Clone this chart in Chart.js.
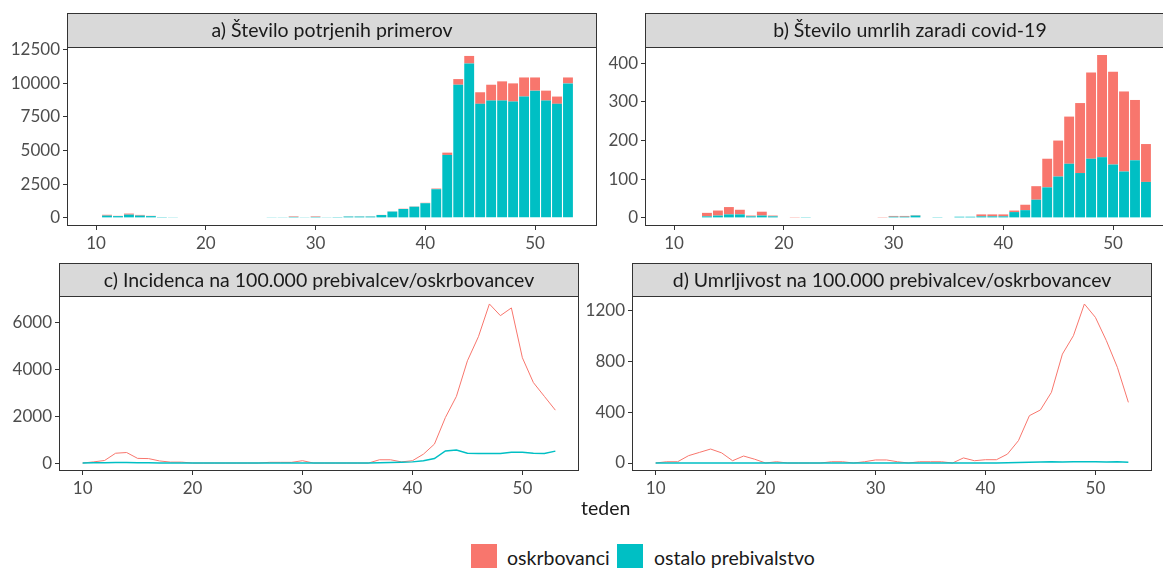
<!DOCTYPE html>
<html>
<head>
<meta charset="utf-8">
<script src="https://cdn.jsdelivr.net/npm/chart.js@4.4.1/dist/chart.umd.min.js"></script>
<style>
  html, body { margin: 0; padding: 0; background: #fff; overflow: hidden; width: 1163px; height: 568px; }
  canvas { position: absolute; }
  .txt { position: absolute; font-family: Lato, sans-serif; color: #1a1a1a; font-size: 19.5px; white-space: nowrap; line-height: 22px; }
  .key { position: absolute; width: 26px; height: 26px; }
</style>
</head>
<body>
<canvas id="panelA"></canvas>
<canvas id="panelB"></canvas>
<canvas id="panelC"></canvas>
<canvas id="panelD"></canvas>
<div class="txt" style="left:581px; top:497px;">teden</div>
<div class="key" style="left:471px; top:544px; background:#F8766D;"></div>
<div class="txt" style="left:507px; top:547px;">oskrbovanci</div>
<div class="key" style="left:617px; top:544px; background:#00BFC4;"></div>
<div class="txt" style="left:654px; top:547px;">ostalo prebivalstvo</div>
<script>
const RED = '#F8766D'
const TEAL = '#00BFC4'

// tedni 10-53
const weeks = [10, 11, 12, 13, 14, 15, 16, 17, 18, 19, 20, 21, 22, 23, 24, 25, 26, 27, 28, 29, 30, 31,
  32, 33, 34, 35, 36, 37, 38, 39, 40, 41, 42, 43, 44, 45, 46, 47, 48, 49, 50, 51, 52, 53]

// a) potrjeni primeri
const casesOther = [0, 170, 130, 240, 170, 130, 60, 50, 0, 0, 0, 0, 0, 0, 0, 0, 50, 50, 70, 50, 70, 50,
  60, 100, 100, 100, 210, 470, 660, 830, 1090, 2130, 4680, 9900, 11480, 8480, 8720, 8720, 8650, 9020, 9460, 8720, 8480, 10000]
const casesCare = [0, 60, 20, 80, 50, 20, 0, 0, 0, 0, 0, 0, 0, 0, 0, 0, 0, 0, 40, 0, 40, 0,
  0, 10, 10, 10, 10, 10, 20, 20, 30, 50, 170, 420, 560, 860, 1180, 1430, 1350, 1420, 980, 740, 540, 440]

// b) umrli zaradi covid-19
const deathsOther = [0, 0, 0, 4, 6, 9, 9, 4, 6, 4, 0, 0, 2, 0, 0, 0, 0, 0, 0, 0, 3, 3,
  6, 0, 2, 0, 3, 3, 4, 4, 4, 15, 20, 47, 79, 107, 140, 116, 153, 157, 138, 120, 149, 93]
const deathsCare = [0, 0, 0, 9, 13, 19, 12, 2, 10, 2, 0, 2, 0, 0, 0, 0, 0, 0, 0, 2, 2, 2,
  1, 0, 0, 0, 0, 0, 5, 5, 5, 4, 14, 35, 74, 93, 122, 181, 223, 264, 240, 207, 156, 98]

// c) incidenca na 100.000
const incOther = [5, 10, 15, 20, 20, 15, 10, 5, 3, 2, 1, 1, 1, 1, 1, 1, 2, 2, 3, 3, 4, 3,
  3, 3, 4, 4, 5, 15, 25, 35, 50, 100, 190, 520, 560, 420, 410, 410, 410, 460, 460, 420, 410, 510]
const incCare = [0, 50, 110, 420, 450, 200, 190, 90, 40, 40, 0, 0, 0, 0, 0, 0, 0, 30, 30, 30, 100, 0,
  0, 0, 0, 0, 0, 140, 140, 50, 100, 380, 810, 1950, 2850, 4370, 5400, 6800, 6300, 6630, 4500, 3440, 2850, 2260]

// d) umrljivost na 100.000
const mortOther = [0, 0, 1, 1, 1, 1, 1, 0, 0, 0, 0, 0, 0, 0, 0, 0, 0, 0, 0, 0, 0, 0,
  0, 0, 0, 0, 0, 0, 0, 0, 0, 1, 2, 4, 6, 8, 9, 8, 10, 10, 9, 8, 10, 6]
const mortCare = [0, 10, 10, 58, 84, 110, 80, 18, 55, 30, 0, 10, 0, 0, 0, 0, 10, 10, 0, 10, 24, 24,
  10, 0, 10, 10, 10, 0, 40, 18, 26, 26, 70, 176, 373, 418, 557, 858, 1003, 1253, 1148, 964, 754, 478]

const xTicks = [10, 20, 30, 40, 50]
const yTicksA = [0, 2500, 5000, 7500, 10000, 12500]
const yTicksB = [0, 100, 200, 300, 400]
const yTicksC = [0, 2000, 4000, 6000]
const yTicksD = [0, 400, 800, 1200]

const YW = 60, XH = 32, RP = 6

const pts = (ys) => weeks.map((w, i) => ({ x: w, y: ys[i] }))

// siva glava panela + okvir
const stripPlugin = {
  id: 'strip',
  afterDraw(chart, args, opts) {
    const { ctx, chartArea: a } = chart
    const l = Math.round(a.left) + 0.5, r = Math.round(a.right) - 0.5
    const t = Math.round(a.top) + 0.5, b = Math.round(a.bottom) - 0.5
    ctx.save()
    ctx.fillStyle = '#d9d9d9'
    ctx.fillRect(l, 0.5, r - l, t - 0.5)
    ctx.strokeStyle = '#333333'
    ctx.lineWidth = 1
    ctx.strokeRect(l, 0.5, r - l, t - 0.5)
    ctx.strokeRect(l, t, r - l, b - t)
    ctx.fillStyle = '#1a1a1a'
    ctx.font = '19.5px Lato'
    ctx.textAlign = 'center'
    ctx.textBaseline = 'middle'
    ctx.fillText(opts.text, (a.left + a.right) / 2, a.top / 2 + 1)
    ctx.restore()
  }
}

const axis = (ticks, min, max, isX, stacked) => ({
  type: 'linear',
  min: min,
  max: max,
  stacked: stacked,
  offset: false,
  afterBuildTicks: (s) => { s.ticks = ticks.map(v => ({ value: v })) },
  afterFit: (s) => { if (isX) s.height = XH; else s.width = YW },
  grid: { offset: false, drawOnChartArea: false, drawTicks: true, tickLength: 4, color: '#333333' },
  border: { display: false },
  ticks: {
    padding: 3,
    color: '#4d4d4d',
    font: { family: 'Lato', size: 17 },
    maxRotation: 0,
    callback: (v) => String(v)
  }
})

const makePanel = (id, box, title, type, datasets, xr, yTicks, yr) => {
  const canvas = document.getElementById(id)
  const stripH = box.top - box.stripTop
  const w = YW + (box.right - box.left) + RP
  const h = (box.bottom - box.stripTop) + XH
  const stacked = type === 'bar'
  canvas.width = w
  canvas.height = h
  canvas.style.left = (box.left - YW) + 'px'
  canvas.style.top = box.stripTop + 'px'
  return new Chart(canvas, {
    type: type,
    data: { datasets: datasets },
    plugins: [stripPlugin],
    options: {
      responsive: false,
      animation: false,
      devicePixelRatio: 1,
      layout: { padding: { top: stripH, right: RP, left: 0, bottom: 0 } },
      plugins: { legend: { display: false }, tooltip: { enabled: false }, strip: { text: title } },
      scales: {
        x: axis(xTicks, xr[0], xr[1], true, stacked),
        y: axis(yTicks, yr[0], yr[1], false, stacked)
      }
    }
  })
}

const barSet = (ys, color) => ({
  data: pts(ys), backgroundColor: color, borderWidth: 0,
  barPercentage: 0.9, categoryPercentage: 1.0
})
const lineSet = (ys, color, width) => ({
  data: pts(ys), borderColor: color, borderWidth: width,
  pointRadius: 0, tension: 0, fill: false
})

makePanel('panelA', { left: 67, right: 597, stripTop: 13, top: 47, bottom: 226 },
  'a) Število potrjenih primerov', 'bar',
  [barSet(casesOther, TEAL), barSet(casesCare, RED)],
  [7.355, 55.645], yTicksA, [-605, 12705])

makePanel('panelB', { left: 645, right: 1175, stripTop: 13, top: 47, bottom: 226 },
  'b) Število umrlih zaradi covid-19', 'bar',
  [barSet(deathsOther, TEAL), barSet(deathsCare, RED)],
  [7.355, 55.645], yTicksB, [-21, 442])

makePanel('panelC', { left: 59, right: 579, stripTop: 263, top: 296, bottom: 471 },
  'c) Incidenca na 100.000 prebivalcev/oskrbovancev', 'line',
  [lineSet(incOther, TEAL, 1.5), lineSet(incCare, RED, 1)],
  [7.85, 55.15], yTicksC, [-340, 7140])

makePanel('panelD', { left: 632, right: 1152, stripTop: 263, top: 296, bottom: 471 },
  'd) Umrljivost na 100.000 prebivalcev/oskrbovancev', 'line',
  [lineSet(mortOther, TEAL, 1.5), lineSet(mortCare, RED, 1)],
  [7.85, 55.15], yTicksD, [-63, 1316])
</script>
</body>
</html>
